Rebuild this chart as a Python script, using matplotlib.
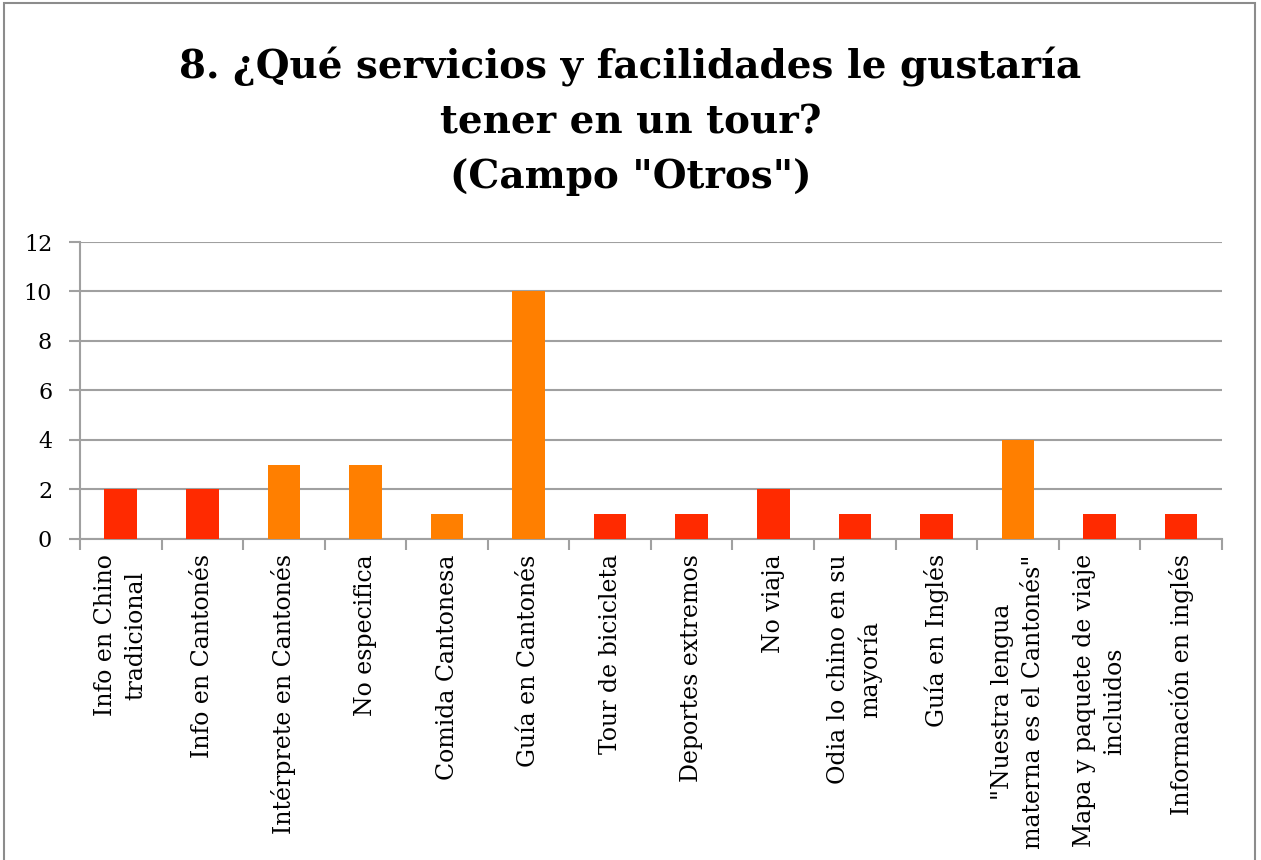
import numpy as np
import matplotlib.pyplot as plt
from matplotlib.patches import Rectangle

# Data
labels = ['Info en Chino\ntradicional', 'Info en Cantonés', 'Intérprete en Cantonés',
          'No especifica', 'Comida Cantonesa', 'Guía en Cantonés', 'Tour de bicicleta',
          'Deportes extremos', 'No viaja', 'Odia lo chino en su\nmayoría', 'Guía en Inglés',
          '"Nuestra lengua\nmaterna es el Cantonés"', 'Mapa y paquete de viaje\nincluidos',
          'Información en inglés']
values = [2, 2, 3, 3, 1, 10, 1, 1, 2, 1, 1, 4, 1, 1]
bar_colors = ['#FF2A00', '#FF2A00', '#FF7F00', '#FF7F00', '#FF7F00', '#FF7F00', '#FF2A00',
              '#FF2A00', '#FF2A00', '#FF2A00', '#FF2A00', '#FF7F00', '#FF2A00', '#FF2A00']

grid_c = '#A0A0A0'
serif = 'DejaVu Serif'

fig = plt.figure(figsize=(12.61, 8.6), dpi=100)
ax = fig.add_axes([0.0634, 0.3733, 0.9056, 0.3453])

x = np.arange(len(values))
ax.bar(x, values, width=0.4, color=bar_colors, zorder=3)

ax.set_xlim(-0.5, len(values) - 0.5)
ax.set_ylim(0, 12)
ax.set_yticks(range(0, 13, 2))
ax.yaxis.grid(True, color=grid_c, linewidth=1.5, zorder=0)

# category labels centred, ticks on the boundaries
ax.set_xticks(x)
ax.set_xticklabels(labels, rotation=90, fontfamily=serif, fontsize=17,
                   va='top', ha='center', multialignment='center', linespacing=1.4)
ax.tick_params(axis='x', which='major', length=0, pad=11)
ax.set_xticks(np.arange(-0.5, len(values)), minor=True)
ax.tick_params(axis='x', which='minor', length=8, width=1.5, color=grid_c)
ax.tick_params(axis='y', length=8, width=1.5, color=grid_c, pad=12)
for t in ax.get_yticklabels():
    t.set_fontfamily(serif)
    t.set_fontsize(16)

for s in ['top', 'right']:
    ax.spines[s].set_visible(False)
for s in ['left', 'bottom']:
    ax.spines[s].set_color(grid_c)
    ax.spines[s].set_linewidth(1.5)

fig.text(0.5, 0.945, '8. ¿Qué servicios y facilidades le gustaría\ntener en un tour?\n(Campo "Otros")',
         ha='center', va='top', fontfamily=serif, fontweight='bold', fontsize=28,
         linespacing=1.55)

# outer chart border
fig.patches.append(Rectangle((0.003, -0.01), 0.992, 1.006, transform=fig.transFigure,
                             fill=False, edgecolor='#8C8C8C', linewidth=1.5))

fig.savefig('out.png')
